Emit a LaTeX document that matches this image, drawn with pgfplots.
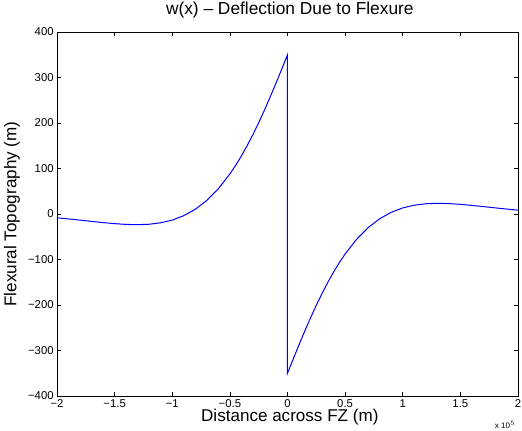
\documentclass[border=0pt]{standalone}
\usepackage{pgfplots}
\pgfplotsset{compat=1.18}
\usepackage{fontspec}
\setmainfont{Liberation Sans}

\begin{document}
\begin{tikzpicture}
\begin{axis}[
    at={(0,0)}, anchor=south west,
    scale only axis,
    width=345.75pt, height=273pt,
    xmin=-2, xmax=2,
    ymin=-400, ymax=400,
    clip=false,
    xtick={-2,-1.5,...,2},
    xticklabels={−2,−1.5,−1,−0.5,0,0.5,1,1.5,2},
    ytick={-400,-300,...,400},
    yticklabels={−400,−300,−200,−100,0,100,200,300,400},
    tick align=inside,
    major tick length=3pt,
    axis line style={line width=0.7pt},
    tick style={line width=0.5pt, black},
    tick label style={font=\fontsize{8.5}{9}\selectfont},
    xticklabel style={yshift=1pt},
    yticklabel style={xshift=1pt},
    title={w(x) -- Deflection Due to Flexure},
    title style={at={(axis description cs:0.505,1.0385)}, anchor=center, font=\fontsize{13}{15}\selectfont},
    xlabel={Distance across FZ (m)},
    xlabel style={at={(axis description cs:0.505,-0.0577)}, anchor=center, font=\fontsize{12.8}{15}\selectfont},
    ylabel={Flexural Topography (m)},
    ylabel style={at={(axis description cs:-0.0976,0.5)}, anchor=center, font=\fontsize{12.8}{15}\selectfont},
]
\addplot[color=blue, line width=0.75pt] coordinates {
(-2.0,-8.4) (-1.9,-10.9) (-1.8,-13.5) (-1.7,-16.2) (-1.6,-18.9) (-1.5,-21.2)
(-1.4,-22.9) (-1.3,-23.5) (-1.2,-22.5) (-1.1,-19.3) (-1.0,-13.4) (-0.9,-3.7)
(-0.8,10.4) (-0.7,29.9) (-0.6,55.5) (-0.5,88.0) (-0.45,106.8) (-0.4,127.6)
(-0.35,150.2) (-0.3,174.5) (-0.25,200.6) (-0.2,228.2) (-0.15,257.3) (-0.1,287.4)
(-0.05,318.5) (0,350)
(0,-350)
(0.05,-318.5) (0.1,-287.4) (0.15,-257.3) (0.2,-228.2) (0.25,-200.6) (0.3,-174.5)
(0.35,-150.2) (0.4,-127.6) (0.45,-106.8) (0.5,-88.0) (0.6,-55.5) (0.7,-29.9)
(0.8,-10.4) (0.9,3.7) (1.0,13.4) (1.1,19.3) (1.2,22.5) (1.3,23.5) (1.4,22.9)
(1.5,21.2) (1.6,18.9) (1.7,16.2) (1.8,13.5) (1.9,10.9) (2.0,8.4)
};
\node[font=\fontsize{6}{7}\selectfont, anchor=center] at (axis description cs:0.972,-0.0797) {x 10$^{5}$};
\end{axis}
\pgfresetboundingbox
\path (-42.75pt,-26.25pt) rectangle (348.75pt,297pt);
\end{tikzpicture}
\end{document}
